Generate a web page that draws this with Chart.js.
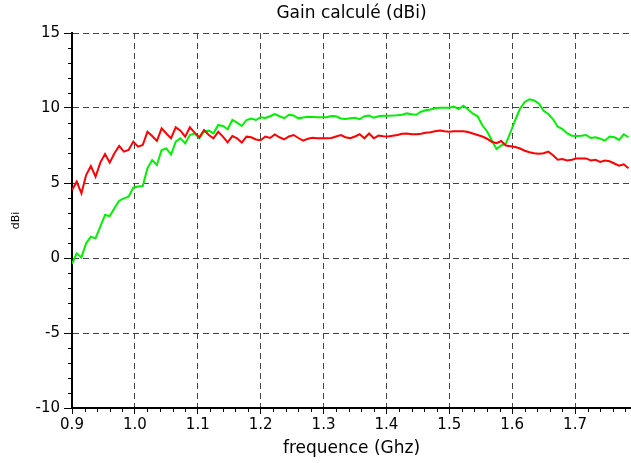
<!DOCTYPE html>
<html>
<head>
<meta charset="utf-8">
<script src="https://cdn.jsdelivr.net/npm/chart.js@4/dist/chart.umd.min.js"></script>
<style>
html,body{margin:0;padding:0;background:#fff;}
#wrap{width:631px;height:463px;position:relative;}
</style>
</head>
<body>
<div id="wrap"><canvas id="c" width="631" height="463"></canvas></div>
<script>
// Frequency grid (GHz): first sample and step between samples
const FREQ_START = 0.9;
const FREQ_STEP = 0.0075;

// Series values (dBi)
const gainRed = [
  4.53, 5.09, 4.31, 5.53, 6.13, 5.42, 6.36, 6.93, 6.36, 6.98,
  7.47, 7.09, 7.20, 7.76, 7.42, 7.53, 8.42, 8.13, 7.80, 8.64,
  8.30, 7.98, 8.71, 8.49, 8.09, 8.71, 8.36, 8.04, 8.53, 8.20,
  7.98, 8.42, 8.09, 7.71, 8.13, 7.98, 7.69, 8.09, 8.05, 7.90,
  7.85, 8.10, 8.00, 8.24, 8.05, 7.91, 8.10, 8.20, 8.00, 7.82,
  7.95, 8.02, 7.98, 7.98, 7.98, 8.00, 8.10, 8.20, 8.05, 7.98,
  8.10, 8.25, 7.98, 8.30, 7.98, 8.16, 8.12, 8.10, 8.15, 8.20,
  8.28, 8.30, 8.25, 8.25, 8.28, 8.35, 8.38, 8.45, 8.50, 8.45,
  8.42, 8.45, 8.45, 8.45, 8.40, 8.30, 8.20, 8.10, 7.95, 7.75,
  7.65, 7.80, 7.50, 7.45, 7.40, 7.30, 7.15, 7.05, 6.98, 6.95,
  6.98, 7.09, 6.85, 6.55, 6.60, 6.50, 6.55, 6.64, 6.64, 6.64,
  6.50, 6.55, 6.40, 6.50, 6.45, 6.30, 6.15, 6.25, 5.98
];
const gainGreen = [
  -0.40, 0.31, 0.04, 0.98, 1.42, 1.31, 2.09, 2.87, 2.80, 3.31,
  3.82, 3.98, 4.09, 4.69, 4.76, 4.80, 5.98, 6.53, 6.20, 7.20,
  7.30, 6.90, 7.76, 7.98, 7.64, 8.20, 8.31, 7.98, 8.42, 8.49,
  8.31, 8.87, 8.80, 8.58, 9.20, 9.02, 8.80, 9.20, 9.30, 9.20,
  9.38, 9.33, 9.45, 9.60, 9.45, 9.32, 9.55, 9.50, 9.31, 9.36,
  9.42, 9.40, 9.38, 9.38, 9.38, 9.47, 9.45, 9.30, 9.27, 9.31,
  9.35, 9.25, 9.45, 9.50, 9.35, 9.45, 9.48, 9.49, 9.50, 9.52,
  9.55, 9.64, 9.58, 9.55, 9.75, 9.85, 9.90, 9.98, 10.02, 10.02,
  10.02, 10.09, 9.93, 10.15, 9.90, 9.62, 9.45, 8.85, 8.45, 7.85,
  7.27, 7.50, 7.62, 8.40, 9.20, 9.95, 10.40, 10.58, 10.50, 10.30,
  9.82, 9.60, 9.25, 8.75, 8.60, 8.30, 8.15, 8.13, 8.15, 8.20,
  8.00, 8.05, 7.95, 7.82, 8.10, 8.05, 7.87, 8.25, 8.05
];

// Axis tick labels
const xTickLabels = ['0.9','1.0','1.1','1.2','1.3','1.4','1.5','1.6','1.7'];
const yTickLabels = ['-10','-5','0','5','10','15'];

const CHART_TITLE = 'Gain calculé (dBi)';

const freqs = gainRed.map((_, i) => +(FREQ_START + FREQ_STEP * i).toFixed(4));
const toPts = arr => arr.map((v, i) => ({x: freqs[i], y: v}));

const FONT = 'DejaVu Sans';

const minorTicks = {
  id: 'minorTicks',
  afterDatasetsDraw(chart) {
    const {ctx, chartArea, scales} = chart;
    const xs = scales.x, ys = scales.y;
    ctx.save();
    ctx.strokeStyle = '#000';
    ctx.lineWidth = 1;
    ctx.beginPath();
    for (let v = -10; v <= 15; v++) {
      if (v % 5 === 0) continue;
      const py = Math.round(ys.getPixelForValue(v)) + 0.5;
      ctx.moveTo(chartArea.left - 4, py);
      ctx.lineTo(chartArea.left, py);
    }
    for (let k = 0; k <= 44; k++) {
      if (k % 5 === 0) continue;
      const v = 0.9 + k * 0.02;
      if (v > xs.max) break;
      const px = Math.round(xs.getPixelForValue(v)) + 0.5;
      ctx.moveTo(px, chartArea.bottom);
      ctx.lineTo(px, chartArea.bottom + 4);
    }
    ctx.stroke();
    // Title centred over the plot area
    ctx.fillStyle = '#000';
    ctx.font = '17px "' + FONT + '"';
    ctx.textAlign = 'center';
    ctx.textBaseline = 'middle';
    ctx.fillText(CHART_TITLE, (chartArea.left + chartArea.right) / 2, 14);
    ctx.restore();
  }
};

new Chart(document.getElementById('c'), {
  type: 'line',
  data: {
    datasets: [
      {data: toPts(gainRed), borderColor: '#ff0000', borderWidth: 2, pointRadius: 0, tension: 0, fill: false},
      {data: toPts(gainGreen), borderColor: '#00ee00', borderWidth: 2, pointRadius: 0, tension: 0, fill: false}
    ]
  },
  plugins: [minorTicks],
  options: {
    responsive: false,
    animation: false,
    events: [],
    layout: {padding: {top: 33, right: 0, left: 0, bottom: 0}},
    plugins: {
      legend: {display: false},
      tooltip: {enabled: false},
      title: {display: false}
    },
    scales: {
      x: {
        type: 'linear',
        min: 0.9,
        max: 1.789,
        afterBuildTicks(s) {
          s.ticks = xTickLabels.map(t => ({value: parseFloat(t)}));
        },
        afterFit(s) { s.height = 55; },
        ticks: {
          color: '#000',
          font: {family: FONT, size: 15},
          padding: 2,
          maxRotation: 0,
          autoSkip: false,
          callback: (v) => Number(v).toFixed(1)
        },
        grid: {color: '#444', lineWidth: 1, tickColor: '#000', tickLength: 6, drawTicks: true},
        border: {display: true, color: '#000', width: 2, dash: [6, 4]},
        title: {display: true, text: 'frequence (Ghz)', color: '#000', font: {family: FONT, size: 17}, padding: {top: 0, bottom: 4}}
      },
      y: {
        type: 'linear',
        min: -10,
        max: 15,
        afterBuildTicks(s) {
          s.ticks = yTickLabels.map(t => ({value: parseFloat(t)}));
        },
        afterFit(s) { s.width = 72; },
        ticks: {
          color: '#000',
          font: {family: FONT, size: 15},
          padding: 4,
          callback: (v) => String(v)
        },
        grid: {color: '#444', lineWidth: 1, tickColor: '#000', tickLength: 8, drawTicks: true},
        border: {display: true, color: '#000', width: 2, dash: [6, 4]},
        title: {display: true, text: 'dBi', color: '#000', font: {family: FONT, size: 11}, padding: {top: 10, bottom: 0}}
      }
    }
  }
});
</script>
</body>
</html>
